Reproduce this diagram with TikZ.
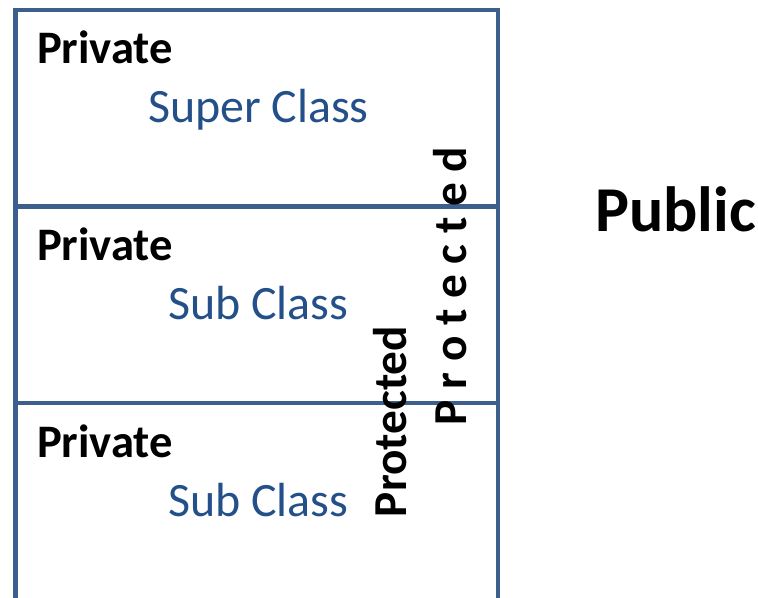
\documentclass[tikz,border=0pt]{standalone}
\usepackage{fontspec}
\setmainfont{Carlito}
\usetikzlibrary{positioning}
\definecolor{Frame}{HTML}{3C5F8D}
\definecolor{Label}{HTML}{24508A}

\begin{document}
\begin{tikzpicture}[x=0.0264cm,y=-0.0264cm,inner sep=0pt,outer sep=0pt]
        \useasboundingbox (0,0) rectangle (758,597);
        \foreach \top/\name/\txt/\lx in {10/A/Super Class/148,206/B/Sub Class/168,403/C/Sub Class/168}{
          \draw[Frame,line width=3.4pt] (15.5,\top) rectangle (498,\top+197);
          \node[anchor=base west,font=\fontsize{35}{42}\selectfont\bfseries] (priv\name) at (37,\top+54) {Private};
          \node[anchor=base west,font=\fontsize{36}{43}\selectfont,text=Label] (cls\name) at (\lx,\top+113) {\txt};}
        \node[anchor=base west,rotate=90,font=\fontsize{35.5}{42}\selectfont\bfseries] (protIn) at (406,517) {Protected};
        \node[anchor=base west,rotate=90,font=\fontsize{35.5}{42}\selectfont\bfseries] (protOut) at (466,425) {P r o t e c t e d};
        \node[anchor=base west,font=\fontsize{48}{56}\selectfont\bfseries] (pub) at (595,231) {Public};
      \end{tikzpicture}
\end{document}
